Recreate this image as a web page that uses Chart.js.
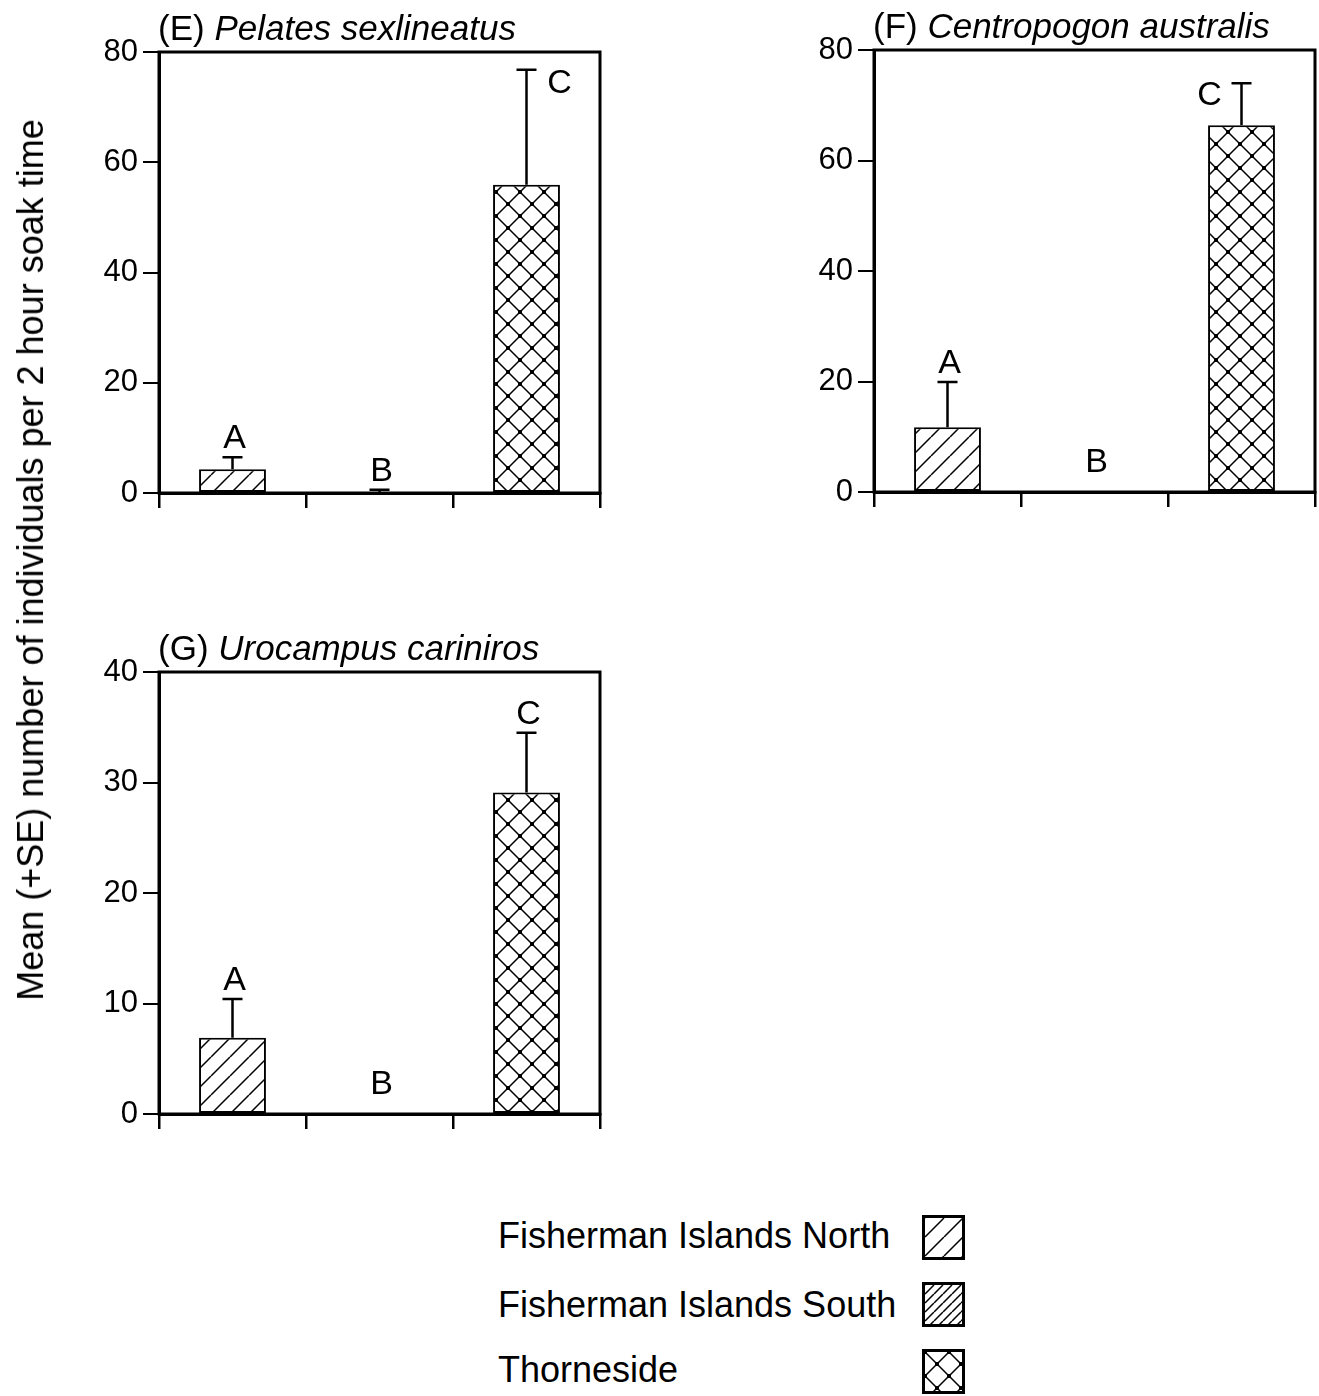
<!DOCTYPE html>
<html>
<head>
<meta charset="utf-8">
<script src="https://cdn.jsdelivr.net/npm/chart.js@4"></script>
<style>
  html,body{margin:0;padding:0;background:#fff;}
  body{width:1319px;height:1396px;position:relative;overflow:hidden;font-family:'Liberation Sans',Arial,Helvetica,sans-serif;color:#000;}
  canvas{position:absolute;}
  .ytitle{position:absolute;left:31px;top:560px;white-space:nowrap;font-size:36px;transform:translate(-50%,-50%) rotate(-90deg);line-height:1;}
  .lgtext{position:absolute;left:498px;font-size:36px;line-height:36px;white-space:nowrap;}
  .sw{position:absolute;left:922px;width:37px;height:39px;border:3px solid #000;}
</style>
</head>
<body>
<canvas id="cE" width="580" height="540" style="left:40px;top:0px;"></canvas>
<canvas id="cF" width="559" height="540" style="left:760px;top:0px;"></canvas>
<canvas id="cG" width="580" height="540" style="left:40px;top:620px;"></canvas>
<div class="ytitle">Mean (+SE) number of individuals per 2 hour soak time</div>
<div id="legend"></div>
<script>
// ---------- data ----------
const categories = ['Fisherman Islands North', 'Fisherman Islands South', 'Thorneside'];
const letters = ['A', 'B', 'C'];

const pelatesMean  = [4.3, 0.1, 55.9];
const pelatesUpper = [6.5, 0.6, 76.8];       // mean + SE

const centropogonMean  = [11.7, 0, 66.4];
const centropogonUpper = [19.9, null, 74.0];

const urocampusMean  = [6.9, 0, 29.1];
const urocampusUpper = [10.4, null, 34.5];

const pelatesTicks = [0, 20, 40, 60, 80];
const centropogonTicks = [0, 20, 40, 60, 80];
const urocampusTicks = [0, 10, 20, 30, 40];

// ---------- styling ----------
const FONT = "'Liberation Sans', Arial, Helvetica, sans-serif";

function makeTile(kind) {
  const s = kind === 'north' ? 19 : (kind === 'south' ? 9 : 24);
  const c = document.createElement('canvas');
  c.width = s; c.height = s;
  const g = c.getContext('2d');
  g.fillStyle = '#fff'; g.fillRect(0, 0, s, s);
  g.strokeStyle = '#000'; g.lineWidth = 1.5;
  g.beginPath();
  if (kind !== 'thorne') {
    for (const o of [-s, 0, s]) { g.moveTo(o, s); g.lineTo(o + s, 0); }
    g.stroke();
  } else {
    g.moveTo(0, 0); g.lineTo(s, s);
    g.moveTo(0, s); g.lineTo(s, 0);
    g.stroke();
    g.fillStyle = '#000';
    const d = 2;
    g.fillRect(s / 2 - d, s / 2 - d, 2 * d, 2 * d);
    g.fillRect(-d, -d, 2 * d, 2 * d); g.fillRect(s - d, -d, 2 * d, 2 * d);
    g.fillRect(-d, s - d, 2 * d, 2 * d); g.fillRect(s - d, s - d, 2 * d, 2 * d);
  }
  return c;
}
const tiles = { north: makeTile('north'), south: makeTile('south'), thorne: makeTile('thorne') };
const tmpCtx = document.createElement('canvas').getContext('2d');
const patterns = [
  tmpCtx.createPattern(tiles.north, 'repeat'),
  tmpCtx.createPattern(tiles.south, 'repeat'),
  tmpCtx.createPattern(tiles.thorne, 'repeat')
];

function decorPlugin(spec) {
  return {
    id: 'decor',
    afterDatasetsDraw(chart) {
      const ctx = chart.ctx;
      const meta = chart.getDatasetMeta(0);
      const ys = chart.scales.y;
      ctx.save();
      ctx.strokeStyle = '#000';
      ctx.fillStyle = '#000';
      ctx.lineWidth = 2.5;
      meta.data.forEach((bar, i) => {
        const up = spec.upper[i];
        if (up == null) return;
        const yTop = ys.getPixelForValue(up);
        ctx.beginPath();
        ctx.moveTo(bar.x, bar.y);
        ctx.lineTo(bar.x, yTop);
        ctx.moveTo(bar.x - 10, yTop);
        ctx.lineTo(bar.x + 10, yTop);
        ctx.stroke();
      });
      // significance letters
      ctx.font = '34px ' + FONT;
      ctx.textAlign = 'center';
      ctx.textBaseline = 'alphabetic';
      meta.data.forEach((bar, i) => {
        const up = spec.upper[i];
        const top = up == null ? spec.mean[i] : up;
        const yTop = ys.getPixelForValue(top);
        const pos = spec.letterPos[i];
        if (pos === 'above') {
          const y = (up == null && spec.mean[i] === 0) ? yTop - 20 : yTop - 9;
          ctx.fillText(letters[i], bar.x + 2, y);
        } else if (pos === 'right') {
          ctx.fillText(letters[i], bar.x + 33, yTop + 23);
        } else {
          ctx.fillText(letters[i], bar.x - 32, yTop + 22);
        }
      });
      ctx.restore();
    },
    afterDraw(chart) {
      const ctx = chart.ctx;
      const a = chart.chartArea;
      ctx.save();
      ctx.strokeStyle = '#000';
      ctx.lineWidth = 3;
      ctx.strokeRect(a.left, a.top, a.right - a.left, a.bottom - a.top);
      // panel title
      ctx.fillStyle = '#000';
      ctx.textBaseline = 'alphabetic';
      ctx.textAlign = 'left';
      ctx.font = '35px ' + FONT;
      const x0 = a.left - 1, y0 = a.top - 12;
      ctx.fillText(spec.label, x0, y0);
      const w = ctx.measureText(spec.label).width;
      ctx.font = 'italic 35px ' + FONT;
      ctx.fillText(spec.species, x0 + w, y0);
      ctx.restore();
    }
  };
}

function makeChart(id, spec) {
  return new Chart(document.getElementById(id), {
    type: 'bar',
    data: {
      labels: categories,
      datasets: [{
        data: spec.mean,
        backgroundColor: patterns,
        borderColor: '#000',
        borderWidth: 2,
        borderSkipped: false,
        barPercentage: 0.455,
        categoryPercentage: 1
      }]
    },
    options: {
      responsive: false,
      animation: false,
      devicePixelRatio: 1,
      layout: { padding: spec.padding },
      plugins: { legend: { display: false }, tooltip: { enabled: false }, title: { display: false } },
      scales: {
        x: {
          offset: true,
          grid: { offset: true, drawOnChartArea: false, drawTicks: true, tickLength: 15, color: '#000', lineWidth: 2.5 },
          border: { display: true, color: '#000', width: 3 },
          ticks: { display: false },
          afterFit: s => { s.height = 20; }
        },
        y: {
          min: spec.ticks[0],
          max: spec.ticks[spec.ticks.length - 1],
          afterBuildTicks: s => { s.ticks = spec.ticks.map(v => ({ value: v })); },
          ticks: { color: '#000', font: { size: 31, family: FONT }, padding: 5 },
          grid: { drawOnChartArea: false, drawTicks: true, tickLength: 16, color: '#000', lineWidth: 2 },
          border: { display: true, color: '#000', width: 3 },
          afterFit: s => { s.width = spec.yWidth; }
        }
      }
    },
    plugins: [decorPlugin(spec)]
  });
}

makeChart('cE', {
  mean: pelatesMean, upper: pelatesUpper, ticks: pelatesTicks,
  letterPos: ['above', 'above', 'right'],
  label: '(E) ', species: 'Pelates sexlineatus',
  yWidth: 119, padding: { top: 52, right: 20, bottom: 27, left: 0 }
});
makeChart('cF', {
  mean: centropogonMean, upper: centropogonUpper, ticks: centropogonTicks,
  letterPos: ['above', 'above', 'left'],
  label: '(F) ', species: 'Centropogon australis',
  yWidth: 114, padding: { top: 50, right: 4, bottom: 28, left: 0 }
});
makeChart('cG', {
  mean: urocampusMean, upper: urocampusUpper, ticks: urocampusTicks,
  letterPos: ['above', 'above', 'above'],
  label: '(G) ', species: 'Urocampus cariniros',
  yWidth: 119, padding: { top: 52, right: 20, bottom: 26, left: 0 }
});

// ---------- legend ----------
const legendTops = [1218, 1287, 1352];
const swatchTops = [1215, 1282, 1349];
const lg = document.getElementById('legend');
categories.forEach((name, i) => {
  const t = document.createElement('div');
  t.className = 'lgtext';
  t.style.top = legendTops[i] + 'px';
  t.textContent = name;
  lg.appendChild(t);
  const s = document.createElement('div');
  s.className = 'sw';
  s.style.top = swatchTops[i] + 'px';
  const key = ['north', 'south', 'thorne'][i];
  s.style.backgroundImage = 'url(' + tiles[key].toDataURL() + ')';
  lg.appendChild(s);
});
</script>
</body>
</html>
